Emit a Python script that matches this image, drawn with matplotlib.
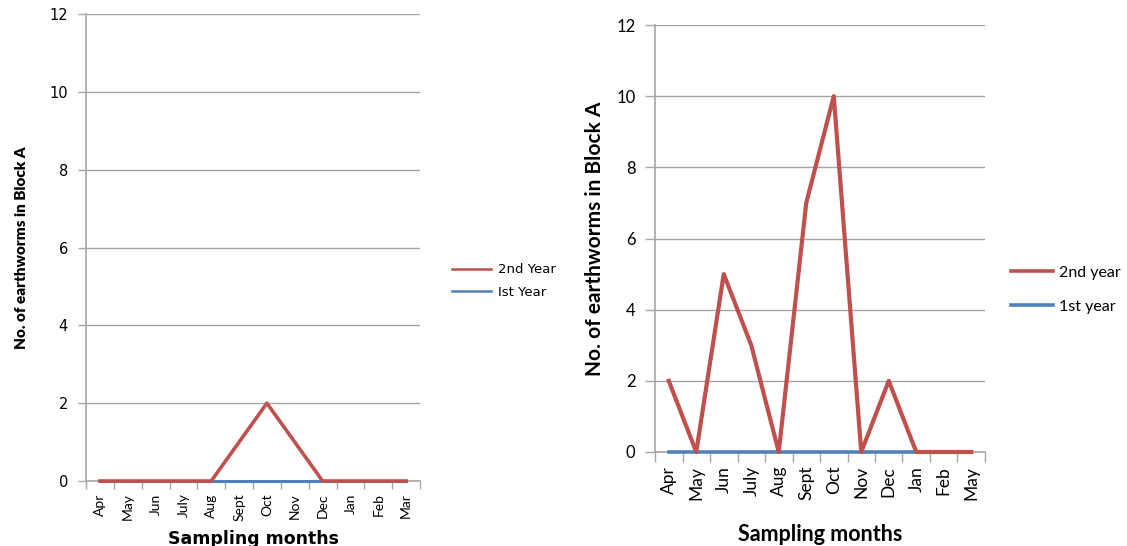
import matplotlib
matplotlib.use("Agg")
import matplotlib.pyplot as plt
import numpy as np

# Block A earthworm counts per sampling month
months_a = ["Apr", "May", "Jun", "July", "Aug", "Sept", "Oct", "Nov", "Dec", "Jan", "Feb", "Mar"]
first_year_a = [0, 0, 0, 0, 0, 0, 0, 0, 0, 0, 0, 0]
second_year_a = [0, 0, 0, 0, 0, 1, 2, 1, 0, 0, 0, 0]

months_b = ["Apr", "May", "Jun", "July", "Aug", "Sept", "Oct", "Nov", "Dec", "Jan", "Feb", "May"]
first_year_b = [0, 0, 0, 0, 0, 0, 0, 0, 0, 0, 0, 0]
second_year_b = [2, 0, 5, 3, 0, 7, 10, 0, 2, 0, 0, 0]

yticks = [0, 2, 4, 6, 8, 10, 12]

RED = "#C0504D"
BLUE = "#4F81BD"
GRID = "#a6a6a6"

WIDE = ["DejaVu Sans"]
CAL = ["Lato", "DejaVu Sans"]

fig = plt.figure(figsize=(11.27, 5.46), dpi=100)


def style_axes(ax, cats, tick_font, tick_size, ytick_font, ytick_size, tick_len, ypad):
    n = len(cats)
    x = np.arange(n)
    ax.set_xlim(-0.5, n - 0.5)
    ax.set_ylim(0, 12)
    ax.set_yticks(yticks)
    ax.set_yticklabels([str(v) for v in yticks], fontfamily=ytick_font, fontsize=ytick_size)
    ax.set_xticks(x)
    ax.set_xticklabels(cats, rotation=90, fontfamily=tick_font, fontsize=tick_size)
    ax.set_xticks(np.arange(-0.5, n, 1.0), minor=True)
    ax.tick_params(axis="x", which="major", length=0, pad=tick_len + 3)
    ax.tick_params(axis="x", which="minor", length=tick_len, color=GRID, width=1)
    ax.tick_params(axis="y", length=tick_len, color=GRID, width=1, pad=ypad)
    ax.grid(axis="y", color=GRID, linewidth=1)
    ax.set_axisbelow(True)
    for s in ("top", "right"):
        ax.spines[s].set_visible(False)
    for s in ("left", "bottom"):
        ax.spines[s].set_color(GRID)
        ax.spines[s].set_linewidth(1.2)
    return x


# Left panel
ax1 = fig.add_axes([86 / 1127, 1 - 481 / 546, 334 / 1127, 467 / 546])
x1 = style_axes(ax1, months_a, CAL, 10, WIDE, 10.5, 6, 7)
ax1.plot(x1, first_year_a, color=BLUE, linewidth=2.2, label="Ist Year", clip_on=False, zorder=3)
ax1.plot(x1, second_year_a, color=RED, linewidth=2.6, label="2nd Year", clip_on=False, zorder=4)
ax1.set_ylabel("No. of earthworms in Block A", fontfamily=CAL, fontweight="heavy", fontsize=11, labelpad=15)
ax1.set_xlabel("Sampling months", fontfamily=WIDE, fontweight="bold", fontsize=12.5, labelpad=6)
h, l = ax1.get_legend_handles_labels()
leg1 = ax1.legend(h[::-1], l[::-1], loc="center left", bbox_to_anchor=(1.06, 0.428), frameon=False,
                  prop={"family": WIDE, "size": 9.5}, handlelength=3.0, labelspacing=0.75, handletextpad=0.5)
for ln in leg1.get_lines():
    ln.set_linewidth(1.8)

# Right panel
ax2 = fig.add_axes([655 / 1127, 1 - 452 / 546, 330 / 1127, 427 / 546])
x2 = style_axes(ax2, months_b, CAL, 12.5, CAL, 12, 7, 7)
ax2.plot(x2, first_year_b, color=BLUE, linewidth=2.6, label="1st year", clip_on=False, zorder=3)
ax2.plot(x2, second_year_b, color=RED, linewidth=3.0, label="2nd year", clip_on=False, zorder=4)
ax2.set_ylabel("No. of earthworms in Block A", fontfamily=CAL, fontweight="bold", fontsize=15, labelpad=8)
ax2.set_xlabel("Sampling months", fontfamily=CAL, fontweight="bold", fontsize=15.5, labelpad=17)
h, l = ax2.get_legend_handles_labels()
leg2 = ax2.legend(h[::-1], l[::-1], loc="center left", bbox_to_anchor=(1.08, 0.38), frameon=False,
                  prop={"family": CAL, "size": 11.5}, handlelength=2.6, labelspacing=1.25,
                  handletextpad=0.4, borderpad=0, borderaxespad=0)
for ln in leg2.get_lines():
    ln.set_linewidth(2.6)

fig.savefig("out.png", dpi=100)
